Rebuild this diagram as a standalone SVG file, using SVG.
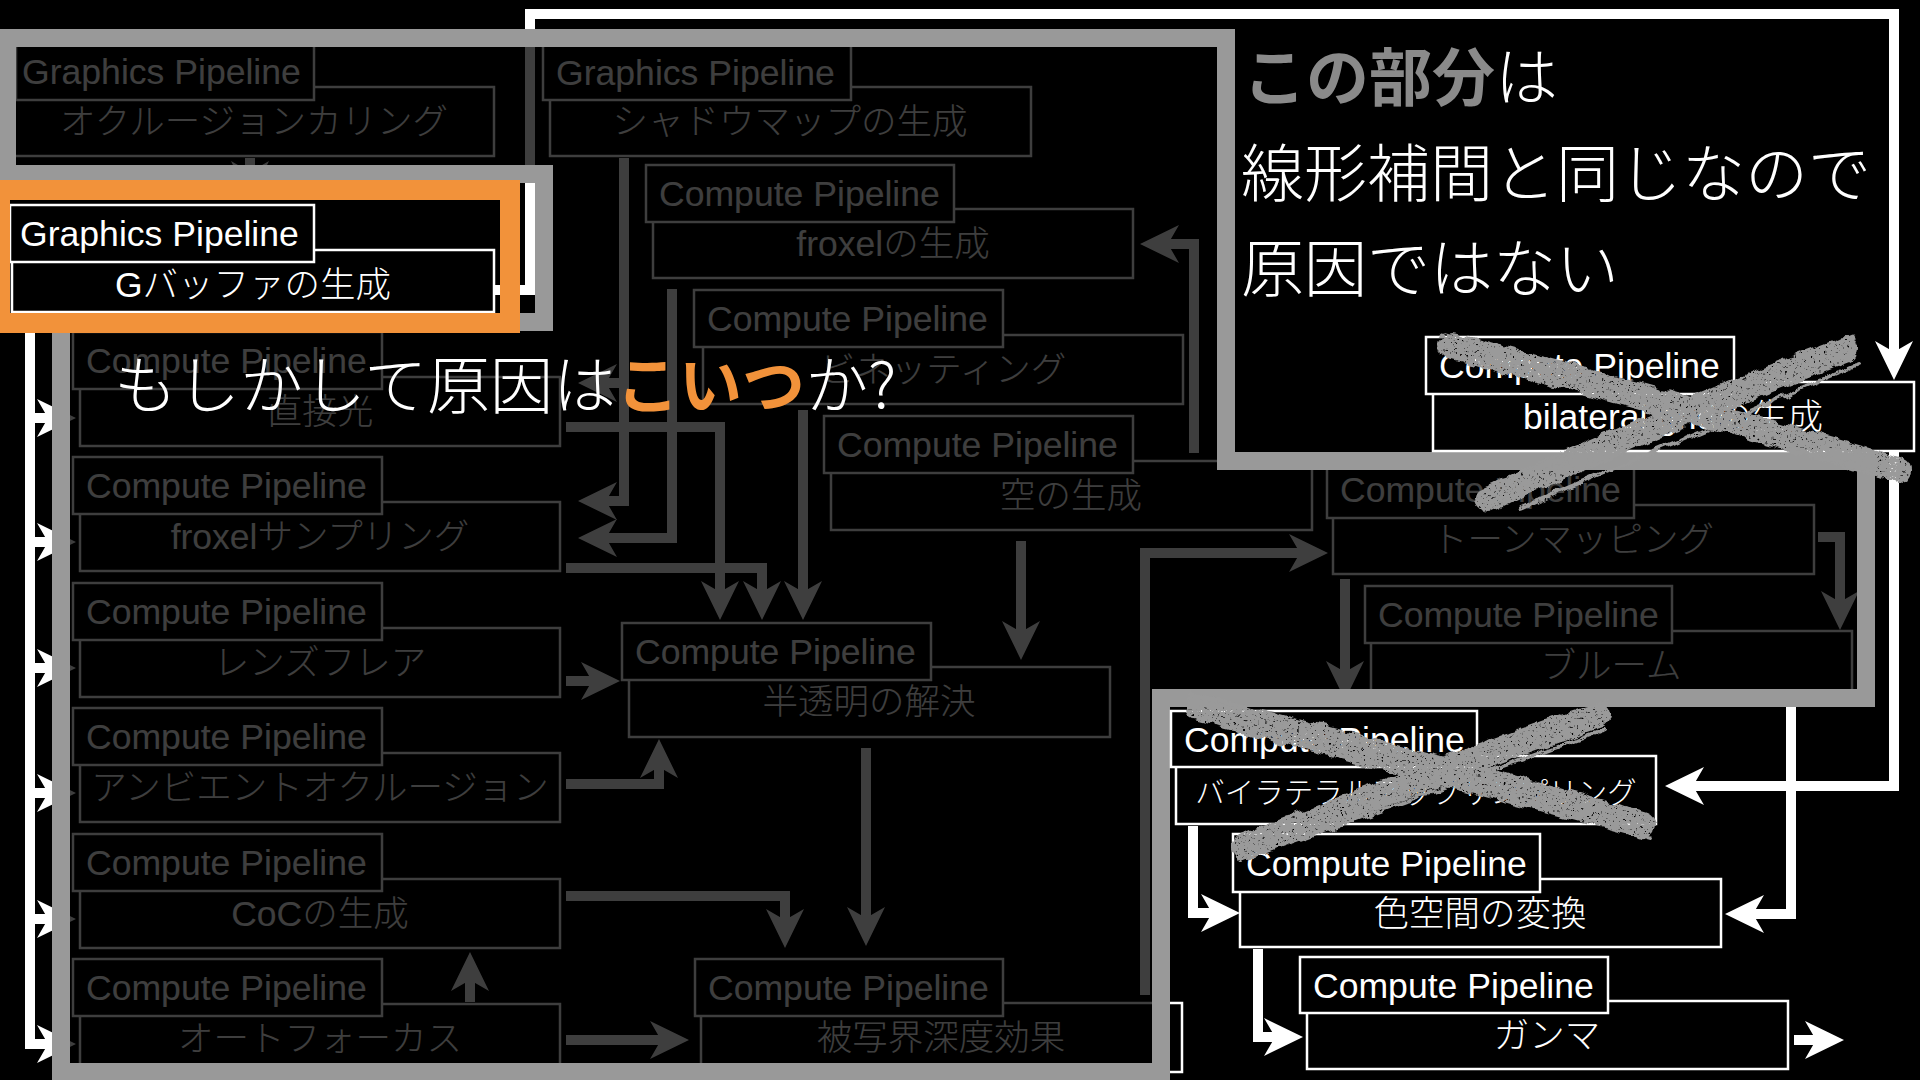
<svg xmlns="http://www.w3.org/2000/svg" width="1920" height="1080" viewBox="0 0 1920 1080">
<defs>
<style>
.bx{fill:#000;stroke:#fff;stroke-width:2.5}
.tl{font-family:"Liberation Sans",Arial,sans-serif;font-size:35.6px;fill:#fff}
.tm{font-family:"Liberation Sans","Noto Sans CJK JP",sans-serif;font-size:35.5px;fill:#fff;text-anchor:middle;font-weight:300}
.c{fill:none;stroke:#fff;stroke-width:10;stroke-linejoin:miter;stroke-miterlimit:10;marker-end:url(#ah)}
.big{font-family:"Noto Sans CJK JP","Liberation Sans",sans-serif;font-size:63px;fill:#fff;font-weight:300}
.xm{fill:none;stroke:#9a9a9a;stroke-linecap:round}
</style>
<marker id="ah" viewBox="-12 -20 41 40" refX="0" refY="0" markerWidth="41" markerHeight="40" markerUnits="userSpaceOnUse" orient="auto" overflow="visible">
<path d="M28,0 L-11,-19 L0,0 L-11,19 Z" fill="#fff"/>
</marker>
<filter id="rough" x="-10%" y="-40%" width="120%" height="180%">
<feTurbulence type="fractalNoise" baseFrequency="0.45" numOctaves="2" seed="7" result="fine"/>
<feColorMatrix in="fine" type="matrix" values="0 0 0 0 0  0 0 0 0 0  0 0 0 0 0  6 0 0 0 -1.2" result="holes"/>
<feComposite in="SourceGraphic" in2="holes" operator="in" result="grain"/>
<feTurbulence type="fractalNoise" baseFrequency="0.07" numOctaves="2" seed="3" result="coarse"/>
<feDisplacementMap in="grain" in2="coarse" scale="10" xChannelSelector="R" yChannelSelector="G"/>
</filter>
</defs>
<rect x="0" y="0" width="1920" height="1080" fill="#000"/>

<g id="connectors">
<path class="c" d="M250,158 V172"/>
<path class="c" d="M624,158 V501 H606"/>
<path class="c" d="M624,383 H606"/>
<path class="c" d="M672,289 V538 H606"/>
<path class="c" d="M566,427 H720 V592"/>
<path class="c" d="M566,568 H762 V592"/>
<path class="c" d="M803,410 V592"/>
<path class="c" d="M1021,541 V632"/>
<path class="c" d="M1194,453 V244 H1168"/>
<path class="c" d="M566,681 H592"/>
<path class="c" d="M566,784 H659 V767"/>
<path class="c" d="M566,896 H785 V920"/>
<path class="c" d="M866,748 V918"/>
<path class="c" d="M566,1040 H661"/>
<path class="c" d="M470,1002 V980"/>
<path class="c" d="M1145,995 V553 H1300"/>
<path class="c" d="M1818,537 H1840 V602"/>
<path class="c" d="M1345,579 V672"/>
<path class="c" d="M1791,700 V914 H1753"/>
<path class="c" d="M1894,451 V786 H1693"/>
<path class="c" d="M1193,826 V913 H1212"/>
<path class="c" d="M1258,949 V1037 H1275"/>
<path class="c" d="M1794,1040 H1816"/>
<path class="c" d="M494,290 H530 V14 H1894 V352"/>
<path class="c" d="M30,312 V1044 H48"/>
<path class="c" d="M30,418 H48"/>
<path class="c" d="M30,542 H48"/>
<path class="c" d="M30,668 H48"/>
<path class="c" d="M30,793 H48"/>
<path class="c" d="M30,919 H48"/>
</g>

<g id="node-occlusion">
<rect class="bx" x="14" y="87" width="480" height="69"/>
<rect class="bx" x="16" y="43" width="298" height="57"/>
<text class="tl" x="22" y="84">Graphics Pipeline</text>
<text class="tm" x="254" y="134">オクルージョンカリング</text>
</g>
<g id="node-shadow">
<rect class="bx" x="550" y="87" width="481" height="69"/>
<rect class="bx" x="543" y="43" width="308" height="57"/>
<text class="tl" x="556" y="85">Graphics Pipeline</text>
<text class="tm" x="790" y="134">シャドウマップの生成</text>
</g>
<g id="node-froxel-gen">
<rect class="bx" x="653" y="209" width="480" height="69"/>
<rect class="bx" x="646" y="165" width="308" height="57"/>
<text class="tl" x="659" y="206">Compute Pipeline</text>
<text class="tm" x="893" y="256">froxelの生成</text>
</g>
<g id="node-vignette">
<rect class="bx" x="703" y="335" width="480" height="69"/>
<rect class="bx" x="694" y="290" width="309" height="57"/>
<text class="tl" x="707" y="331">Compute Pipeline</text>
<text class="tm" x="943" y="382">ビネッティング</text>
</g>
<g id="node-sky">
<rect class="bx" x="831" y="461" width="481" height="69"/>
<rect class="bx" x="824" y="416" width="309" height="57"/>
<text class="tl" x="837" y="457">Compute Pipeline</text>
<text class="tm" x="1071" y="508">空の生成</text>
</g>
<g id="node-direct">
<rect class="bx" x="80" y="377" width="480" height="69"/>
<rect class="bx" x="73" y="332" width="309" height="57"/>
<text class="tl" x="86" y="373">Compute Pipeline</text>
<text class="tm" x="320" y="424">直接光</text>
</g>
<g id="node-froxel-sampling">
<rect class="bx" x="80" y="502" width="480" height="69"/>
<rect class="bx" x="73" y="457" width="309" height="57"/>
<text class="tl" x="86" y="498">Compute Pipeline</text>
<text class="tm" x="320" y="549">froxelサンプリング</text>
</g>
<g id="node-lensflare">
<rect class="bx" x="80" y="628" width="480" height="69"/>
<rect class="bx" x="73" y="583" width="309" height="57"/>
<text class="tl" x="86" y="624">Compute Pipeline</text>
<text class="tm" x="320" y="675">レンズフレア</text>
</g>
<g id="node-ao">
<rect class="bx" x="80" y="753" width="480" height="69"/>
<rect class="bx" x="73" y="708" width="309" height="57"/>
<text class="tl" x="86" y="749">Compute Pipeline</text>
<text class="tm" x="320" y="800">アンビエントオクルージョン</text>
</g>
<g id="node-coc">
<rect class="bx" x="80" y="879" width="480" height="69"/>
<rect class="bx" x="73" y="834" width="309" height="57"/>
<text class="tl" x="86" y="875">Compute Pipeline</text>
<text class="tm" x="320" y="926">CoCの生成</text>
</g>
<g id="node-autofocus">
<rect class="bx" x="80" y="1004" width="480" height="69"/>
<rect class="bx" x="73" y="959" width="309" height="57"/>
<text class="tl" x="86" y="1000">Compute Pipeline</text>
<text class="tm" x="320" y="1051">オートフォーカス</text>
</g>
<g id="node-translucent">
<rect class="bx" x="629" y="667" width="481" height="70"/>
<rect class="bx" x="622" y="623" width="309" height="57"/>
<text class="tl" x="635" y="664">Compute Pipeline</text>
<text class="tm" x="869" y="714">半透明の解決</text>
</g>
<g id="node-dof">
<rect class="bx" x="701" y="1003" width="481" height="69"/>
<rect class="bx" x="695" y="959" width="308" height="57"/>
<text class="tl" x="708" y="1000">Compute Pipeline</text>
<text class="tm" x="941" y="1050">被写界深度効果</text>
</g>
<g id="node-tonemap">
<rect class="bx" x="1333" y="505" width="481" height="69"/>
<rect class="bx" x="1327" y="461" width="307" height="57"/>
<text class="tl" x="1340" y="502">Compute Pipeline</text>
<text class="tm" x="1573" y="552">トーンマッピング</text>
</g>
<g id="node-bloom">
<rect class="bx" x="1371" y="631" width="481" height="69"/>
<rect class="bx" x="1365" y="586" width="307" height="57"/>
<text class="tl" x="1378" y="627">Compute Pipeline</text>
<text class="tm" x="1611" y="678">ブルーム</text>
</g>

<polygon id="dim-overlay" points="7,38 1226,38 1226,461 1866,461 1866,698 1161,698 1161,1072 61,1072 61,322 544,322 544,174 7,174" fill="#000" fill-opacity="0.755"/>
<polygon id="gray-frame" points="7,38 1226,38 1226,461 1866,461 1866,698 1161,698 1161,1072 61,1072 61,322 544,322 544,174 7,174" fill="none" stroke="#999" stroke-width="18"/>

<g id="node-gbuffer">
<rect class="bx" x="12" y="250" width="482" height="62"/>
<rect class="bx" x="10" y="205" width="304" height="57"/>
<text class="tl" x="20" y="246">Graphics Pipeline</text>
<text class="tm" x="253" y="297">Gバッファの生成</text>
</g>
<rect id="highlight" x="0" y="190" width="510" height="133" fill="none" stroke="#F2923A" stroke-width="20"/>

<g id="node-bilateral-grid">
<rect class="bx" x="1433" y="382" width="481" height="69"/>
<rect class="bx" x="1426" y="337" width="308" height="57"/>
<text class="tl" x="1439" y="378">Compute Pipeline</text>
<text class="tm" x="1673" y="429">bilateral gridの生成</text>
</g>
<g id="node-bilateral-upsampling">
<rect class="bx" x="1176" y="756" width="480" height="68"/>
<rect class="bx" x="1171" y="711" width="306" height="56"/>
<text class="tl" x="1184" y="752">Compute Pipeline</text>
<text class="tm" x="1416" y="803" style="font-size:29.5px">バイラテラルアップサンプリング</text>
</g>
<g id="node-colorspace">
<rect class="bx" x="1240" y="879" width="481" height="68"/>
<rect class="bx" x="1233" y="834" width="307" height="58"/>
<text class="tl" x="1246" y="876">Compute Pipeline</text>
<text class="tm" x="1480" y="926">色空間の変換</text>
</g>
<g id="node-gamma">
<rect class="bx" x="1307" y="1001" width="481" height="68"/>
<rect class="bx" x="1300" y="957" width="308" height="56"/>
<text class="tl" x="1313" y="998">Compute Pipeline</text>
<text class="tm" x="1547" y="1048">ガンマ</text>
</g>

<text class="big" x="114" y="408">もしかして原因は<tspan fill="#F2923A" font-weight="700">こいつ</tspan>か?</text>
<text class="big" x="1243" y="100"><tspan fill="#8a8a8a" font-weight="700">この部分</tspan>は</text>
<text class="big" x="1241" y="196">線形補間と同じなので</text>
<text class="big" x="1241" y="291">原因ではない</text>

<g id="cross-1" filter="url(#rough)">
<path class="xm" d="M1452,346 Q1670,402 1898,470" stroke-width="26"/>
<path class="xm" d="M1845,350 Q1660,420 1488,500" stroke-width="26"/>
<path class="xm" d="M1440,334 L1880,456" stroke-width="5"/>
<path class="xm" d="M1470,362 L1905,480" stroke-width="4"/>
<path class="xm" d="M1852,338 L1500,484" stroke-width="5"/>
<path class="xm" d="M1860,364 L1520,508" stroke-width="4"/>
</g>
<g id="cross-2" filter="url(#rough)">
<path class="xm" d="M1198,707 Q1420,762 1642,824" stroke-width="26"/>
<path class="xm" d="M1598,715 Q1420,777 1245,847" stroke-width="26"/>
<path class="xm" d="M1190,694 L1630,810" stroke-width="5"/>
<path class="xm" d="M1215,724 L1650,838" stroke-width="4"/>
<path class="xm" d="M1607,701 L1255,832" stroke-width="5"/>
<path class="xm" d="M1605,730 L1240,860" stroke-width="4"/>
</g>
</svg>
